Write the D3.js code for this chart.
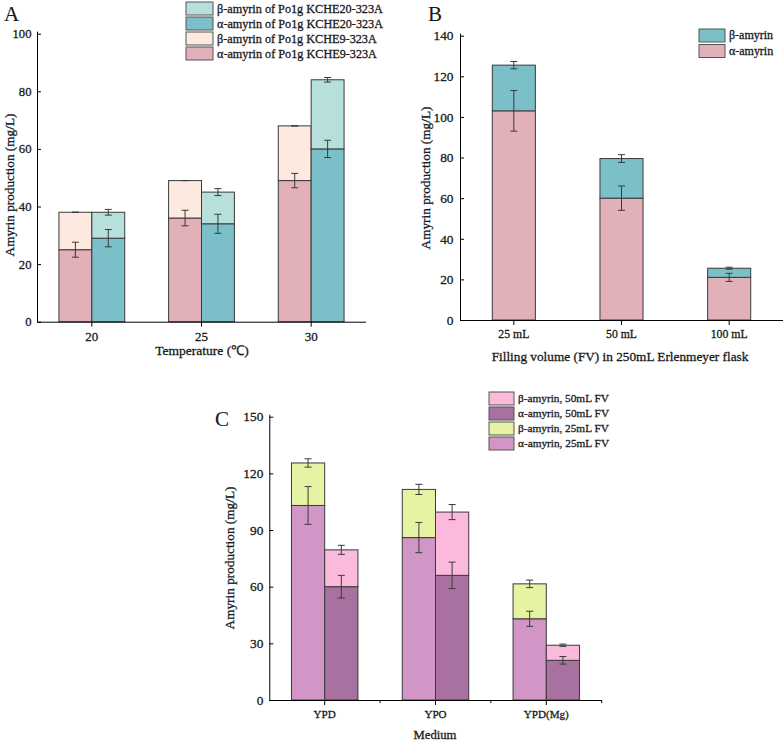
<!DOCTYPE html>
<html><head><meta charset="utf-8">
<script src="https://cdn.jsdelivr.net/npm/d3@7"></script>
<style>
body{margin:0;background:#fff}
svg{display:block}
text{font-family:"Liberation Serif","Times New Roman",serif;fill:#1a1a1a;stroke:#1a1a1a;stroke-width:0.3px}
</style>
</head><body><svg id="c" width="784" height="741"></svg>
<script>
// ---------- Panel A data ----------
const tempCategories = ["20", "25", "30"];
const k9Alpha = [25, 36, 49];
const k9Total = [38, 49, 68];
const k9AlphaErr = [2.6, 2.7, 2.5];
const k9TotalErr = [0, 0, 0];
const k20Alpha = [29, 34, 60];
const k20Total = [38, 45, 84];
const k20AlphaErr = [3, 3.3, 3];
const k20TotalErr = [1, 1.2, 0.8];
const tempTicks = [0, 20, 40, 60, 80, 100];
const legendA = ["β-amyrin of Po1g KCHE20-323A", "α-amyrin of Po1g KCHE20-323A", "β-amyrin of Po1g KCHE9-323A", "α-amyrin of Po1g KCHE9-323A"];

// ---------- Panel B data ----------
const fvCategories = ["25 mL", "50 mL", "100 mL"];
const fvAlpha = [103, 60, 21];
const fvTotal = [125.5, 79.5, 25.5];
const fvAlphaErr = [10, 6, 2];
const fvTotalErr = [1.8, 1.9, 0.5];
const fvTicks = [0, 20, 40, 60, 80, 100, 120, 140];
const legendB = ["β-amyrin", "α-amyrin"];

// ---------- Panel C data ----------
const mediumCategories = ["YPD", "YPO", "YPD(Mg)"];
const fv25Alpha = [103, 86, 43];
const fv25Total = [125.5, 111.5, 61.5];
const fv25AlphaErr = [10, 8, 4];
const fv25TotalErr = [2.2, 2.7, 2];
const fv50Alpha = [60, 66, 21];
const fv50Total = [79.5, 99.5, 29];
const fv50AlphaErr = [6, 7, 2];
const fv50TotalErr = [2.4, 4, 0.6];
const mediumTicks = [0, 30, 60, 90, 120, 150];
const legendC = ["β-amyrin, 50mL FV", "α-amyrin, 50mL FV", "β-amyrin, 25mL FV", "α-amyrin, 25mL FV"];

const svg = d3.select("#c");
const STROKE = "#3a3a3a";

// scale a text's font size so that its rendered width equals target
function fitSize(sel, target) {
  const w = sel.node().getComputedTextLength();
  const fs = parseFloat(sel.attr("font-size"));
  return fs * target / w;
}

function panel(o) {
  const g = svg.append("g");
  const x = d3.scaleBand().domain(o.cats).range([o.left, o.right]).padding(0);
  const y = d3.scaleLinear().domain([0, o.yMax]).range([o.bottom, o.top]);
  const bw = x.bandwidth() * o.barFrac;
  const n = o.series.length;

  o.series.forEach((s, j) => {
    const xs = c => x(c) + x.bandwidth() / 2 - n * bw / 2 + j * bw;
    g.selectAll(null).data(o.cats).enter().append("rect")
      .attr("x", c => xs(c)).attr("width", bw)
      .attr("y", (c, i) => y(s.alpha[i])).attr("height", (c, i) => y(0) - y(s.alpha[i]))
      .attr("fill", s.cA).attr("stroke", STROKE).attr("stroke-width", 1);
    g.selectAll(null).data(o.cats).enter().append("rect")
      .attr("x", c => xs(c)).attr("width", bw)
      .attr("y", (c, i) => y(s.total[i])).attr("height", (c, i) => y(s.alpha[i]) - y(s.total[i]))
      .attr("fill", s.cB).attr("stroke", STROKE).attr("stroke-width", 1);
    s.xs = xs;
  });
  // error bars
  o.series.forEach(s => {
    [[s.alpha, s.aErr], [s.total, s.tErr]].forEach(([v, e]) => {
      o.cats.forEach((c, i) => {
        const cx = s.xs(c) + bw / 2;
        const y1 = y(v[i] + e[i]), y2 = y(v[i] - e[i]);
        g.append("line").attr("x1", cx).attr("x2", cx).attr("y1", y1).attr("y2", y2)
          .attr("stroke", STROKE).attr("stroke-width", 1);
        [y1, y2].forEach(yy => g.append("line").attr("x1", cx - 3.5).attr("x2", cx + 3.5)
          .attr("y1", yy).attr("y2", yy).attr("stroke", STROKE).attr("stroke-width", 1));
      });
    });
  });

  // axes
  const ya = g.append("g").attr("transform", `translate(${o.left},0)`)
    .call(d3.axisLeft(y).tickValues(o.ticks).tickSizeInner(-4).tickSizeOuter(0).tickPadding(o.yPad));
  ya.select(".domain").attr("stroke", "#000").attr("d", `M0.5,${o.bottom}V${o.top - 2}`);
  ya.selectAll(".tick line").attr("stroke", "#000");
  const yt = ya.selectAll("text").attr("font-size", 13);
  const ySize = fitSize(d3.select(yt.nodes()[yt.size() - 1]), o.yTickW);
  yt.attr("font-size", ySize);

  const xa = g.append("g").attr("transform", `translate(0,${o.bottom})`)
    .call(d3.axisBottom(x).tickSizeInner(5).tickSizeOuter(0).tickPadding(o.xPad));
  xa.select(".domain").attr("stroke", "#000").attr("d", `M${o.left},0.5H${o.right}`);
  xa.selectAll(".tick line").attr("stroke", "#000");
  const xt = xa.selectAll("text").attr("font-size", 13);
  const xSize = fitSize(d3.select(xt.nodes()[o.xTickIdx]), o.xTickW);
  xt.attr("font-size", xSize);
  if (o.minor) {
    const b = o.cats.slice(1).map(c => x(c)).concat([o.right]);
    g.selectAll(null).data(b).enter().append("line")
      .attr("x1", d => d).attr("x2", d => d).attr("y1", o.bottom).attr("y2", o.bottom + 3)
      .attr("stroke", "#000");
  }

  // titles
  const yT = g.append("text").attr("transform", `translate(${o.yTitleX},${o.yTitleY}) rotate(-90)`)
    .attr("text-anchor", "middle").attr("font-size", 14).text("Amyrin production (mg/L)");
  yT.attr("font-size", fitSize(yT, o.yTitleW));
  const xT = g.append("text").attr("x", o.xTitleX).attr("y", o.xTitleY).attr("text-anchor", "middle")
    .attr("font-size", 14).text(o.xTitle);
  xT.attr("font-size", fitSize(xT, o.xTitleW));
  g.append("text").attr("x", o.labelX).attr("y", o.labelY).attr("font-size", 21)
    .style("stroke-width", "0.1px").text(o.label);

  // legend
  let legSize = 13;
  o.legend.forEach((t, i) => {
    const yy = o.legY + i * o.legStep;
    g.append("rect").attr("x", o.legX).attr("y", yy).attr("width", o.legW).attr("height", o.legH)
      .attr("fill", o.legColors[i]).attr("stroke", "#555").attr("stroke-width", 1);
    const tx = g.append("text").attr("class", "leg").attr("x", o.legX + o.legW + 4)
      .attr("font-size", 13).text(t);
    if (i === 0) legSize = fitSize(tx, o.legTextW);
    tx.attr("font-size", legSize).attr("y", yy + o.legH / 2 + legSize * 0.33);
  });
}

const cK9a = "#e2b0b8", cK9b = "#fde9df", cK20a = "#7bbfc8", cK20b = "#b7e0dc";
panel({
  cats: tempCategories, yMax: 100, ticks: tempTicks,
  left: 37, right: 366, top: 33.7, bottom: 321.7, barFrac: 0.3, xPad: 5, yPad: 5.5,
  yTickW: 19, xTickIdx: 0, xTickW: 13,
  series: [
    {alpha: k9Alpha, total: k9Total, aErr: k9AlphaErr, tErr: k9TotalErr, cA: cK9a, cB: cK9b},
    {alpha: k20Alpha, total: k20Total, aErr: k20AlphaErr, tErr: k20TotalErr, cA: cK20a, cB: cK20b}
  ],
  yTitleX: 14, yTitleY: 185, yTitleW: 143,
  xTitle: "Temperature (℃)", xTitleX: 202, xTitleY: 355, xTitleW: 94,
  label: "A", labelX: 4, labelY: 21,
  legend: legendA, legColors: [cK20b, cK20a, cK9b, cK9a],
  legX: 186, legY: 2, legW: 27, legH: 13, legStep: 15, legTextW: 166
});

const cBa = "#e2b0b8", cBb = "#7bbfc8";
panel({
  cats: fvCategories, yMax: 140, ticks: fvTicks,
  left: 460, right: 783, top: 35.7, bottom: 320, barFrac: 0.4, xPad: 5, yPad: 6.5,
  yTickW: 20, xTickIdx: 0, xTickW: 31,
  series: [
    {alpha: fvAlpha, total: fvTotal, aErr: fvAlphaErr, tErr: fvTotalErr, cA: cBa, cB: cBb}
  ],
  yTitleX: 430, yTitleY: 178, yTitleW: 143,
  xTitle: "Filling volume (FV) in 250mL Erlenmeyer flask", xTitleX: 620, xTitleY: 361, xTitleW: 257,
  label: "B", labelX: 428, labelY: 21,
  legend: legendB, legColors: [cBb, cBa],
  legX: 699, legY: 29, legW: 26, legH: 13, legStep: 15.5, legTextW: 44
});

const cC25a = "#d196c6", cC25b = "#e6f3a2", cC50a = "#a9719f", cC50b = "#fbb9dc";
panel({
  cats: mediumCategories, yMax: 150, ticks: mediumTicks, minor: true,
  left: 269.3, right: 601.7, top: 416.7, bottom: 700, barFrac: 0.3, xPad: 5, yPad: 6,
  yTickW: 20, xTickIdx: 2, xTickW: 45,
  series: [
    {alpha: fv25Alpha, total: fv25Total, aErr: fv25AlphaErr, tErr: fv25TotalErr, cA: cC25a, cB: cC25b},
    {alpha: fv50Alpha, total: fv50Total, aErr: fv50AlphaErr, tErr: fv50TotalErr, cA: cC50a, cB: cC50b}
  ],
  yTitleX: 234, yTitleY: 558, yTitleW: 143,
  xTitle: "Medium", xTitleX: 435, xTitleY: 739, xTitleW: 43,
  label: "C", labelX: 215, labelY: 426,
  legend: legendC, legColors: [cC50b, cC50a, cC25b, cC25a],
  legX: 489, legY: 392, legW: 25, legH: 13, legStep: 15, legTextW: 91
});
</script>
</body></html>
